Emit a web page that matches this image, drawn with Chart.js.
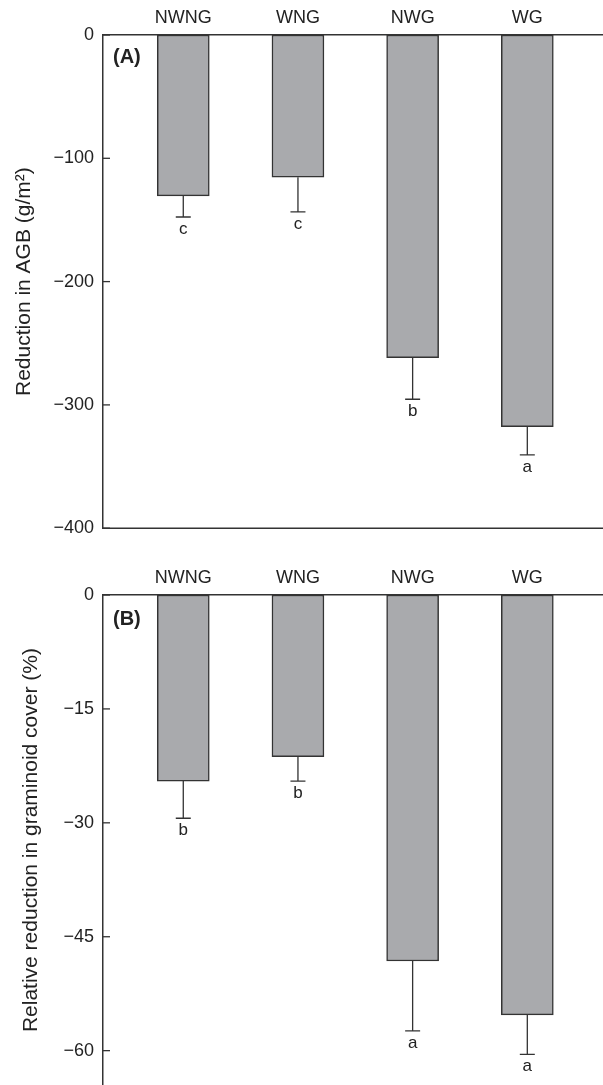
<!DOCTYPE html>
<html>
<head>
<meta charset="utf-8">
<script src="https://cdn.jsdelivr.net/npm/chart.js@4/dist/chart.umd.min.js"></script>
<style>
  html, body { margin: 0; padding: 0; background: #fff; overflow: hidden; }
  .panel { position: relative; width: 603px; }
  #panel-a { height: 548px; }
  #panel-b { height: 545px; margin-top: 12px; }
</style>
</head>
<body>
<div class="panel" id="panel-a"><canvas id="chart-a"></canvas></div>
<div class="panel" id="panel-b"><canvas id="chart-b"></canvas></div>
<script>
const groups = ["NWNG", "WNG", "NWG", "WG"];
const groupPos = [1, 2, 3, 4];

// (A) reduction in above-ground biomass
const agbMean = [-130.5, -115.4, -261.6, -317.6];
const agbErr = [17.1, 28.1, 33.8, 22.9];
const agbLetters = ["c", "c", "b", "a"];
const agbTicks = [0, -100, -200, -300, -400];

// (B) relative reduction in graminoid cover
const coverMean = [-24.5, -21.3, -48.2, -55.3];
const coverErr = [4.9, 3.2, 9.2, 5.2];
const coverLetters = ["b", "b", "a", "a"];
const coverTicks = [0, -15, -30, -45, -60];

Chart.defaults.font.family = "'Liberation Sans', Arial, Helvetica, sans-serif";
Chart.defaults.color = "#222";

const INK = "#333";

function minusLabel(v) {
  return v < 0 ? "\u2212" + Math.abs(v) : String(v);
}

// error bars, letters, inward y ticks, panel tag
const panelDecor = {
  id: "panelDecor",
  afterDatasetsDraw(chart, args, opts) {
    const { ctx, chartArea } = chart;
    const x = chart.scales.x;
    const y = chart.scales.y;
    ctx.save();
    ctx.strokeStyle = INK;
    ctx.lineWidth = 1.3;

    opts.means.forEach((m, i) => {
      const px = x.getPixelForValue(groupPos[i]);
      const y0 = y.getPixelForValue(m);
      const y1 = y.getPixelForValue(m - opts.errs[i]);
      ctx.beginPath();
      ctx.moveTo(px, y0);
      ctx.lineTo(px, y1);
      ctx.moveTo(px - 7.5, y1);
      ctx.lineTo(px + 7.5, y1);
      ctx.stroke();

      ctx.fillStyle = "#222";
      ctx.font = "17px 'Liberation Sans', Arial, sans-serif";
      ctx.textAlign = "center";
      ctx.textBaseline = "alphabetic";
      ctx.fillText(opts.letters[i], px, y1 + 17);
    });

    // small ticks pointing into the plot
    opts.ticks.forEach((t) => {
      const py = y.getPixelForValue(t);
      ctx.beginPath();
      ctx.moveTo(chartArea.left, py);
      ctx.lineTo(chartArea.left + 7, py);
      ctx.stroke();
    });

    if (opts.bottomLine) {
      ctx.lineWidth = 1.5;
      ctx.beginPath();
      ctx.moveTo(chartArea.left, chartArea.bottom);
      ctx.lineTo(chartArea.right, chartArea.bottom);
      ctx.stroke();
    }

    ctx.fillStyle = "#222";
    ctx.font = "bold 20px 'Liberation Sans', Arial, sans-serif";
    ctx.textAlign = "left";
    ctx.textBaseline = "middle";
    ctx.fillText(opts.tag, chartArea.left + 10, chartArea.top + opts.tagDy);
    ctx.restore();
  },
};

function makePanel(canvasId, means, errs, letters, ticks, yMin, title, titlePad, tag, tagDy, bottomLine) {
  const points = means.map((m, i) => ({ x: groupPos[i], y: m }));
  return new Chart(document.getElementById(canvasId), {
    type: "bar",
    data: {
      datasets: [
        {
          data: points,
          backgroundColor: "#a9aaad",
          borderColor: INK,
          borderWidth: 1.5,
          borderSkipped: false,
          barThickness: 52,
        },
      ],
    },
    options: {
      responsive: true,
      maintainAspectRatio: false,
      animation: false,
      events: [],
      layout: { padding: 0 },
      plugins: {
        legend: { display: false },
        tooltip: { enabled: false },
        panelDecor: {
          means: means,
          errs: errs,
          letters: letters,
          ticks: ticks,
          tag: tag,
          tagDy: tagDy,
          bottomLine: bottomLine,
        },
      },
      scales: {
        x: {
          type: "linear",
          position: "top",
          offset: false,
          min: 0.3,
          max: 4.66,
          grid: { display: false, drawTicks: false, offset: false },
          border: { display: true, color: INK, width: 1.5 },
          afterBuildTicks: (scale) => {
            scale.ticks = groupPos.map((v) => ({ value: v }));
          },
          afterFit: (scale) => {
            scale.height = 35;
          },
          ticks: {
            padding: 6,
            maxRotation: 0,
            autoSkip: false,
            font: { size: 18 },
            color: "#222",
            callback: (v) => groups[groupPos.indexOf(v)] || "",
          },
        },
        y: {
          min: yMin,
          max: 0,
          grid: { display: false, drawTicks: false },
          border: { display: true, color: INK, width: 1.5 },
          afterBuildTicks: (scale) => {
            scale.ticks = ticks.map((v) => ({ value: v }));
          },
          afterFit: (scale) => {
            scale.width = 103;
          },
          ticks: {
            padding: 9,
            autoSkip: false,
            font: { size: 18 },
            color: "#222",
            callback: minusLabel,
          },
          title: {
            display: true,
            text: title,
            color: "#222",
            font: { size: 21 },
            padding: { top: titlePad, bottom: 0 },
          },
        },
      },
    },
    plugins: [panelDecor],
  });
}

makePanel("chart-a", agbMean, agbErr, agbLetters, agbTicks, -400,
  "Reduction in AGB (g/m\u00B2)", 11.5, "(A)", 22.5, true);
makePanel("chart-b", coverMean, coverErr, coverLetters, coverTicks, -64.55,
  "Relative reduction in graminoid cover (%)", 19, "(B)", 24, false);
</script>
</body>
</html>
